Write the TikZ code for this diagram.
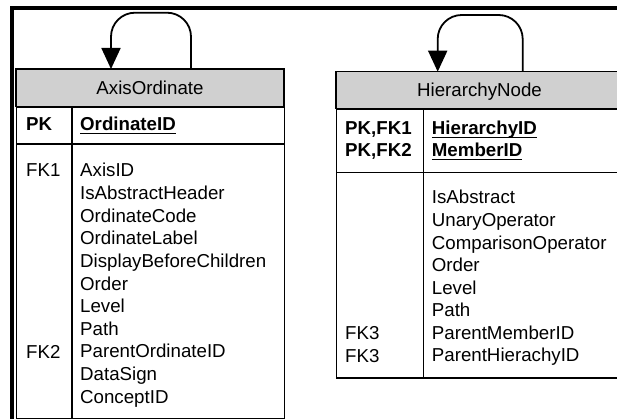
\documentclass[tikz,border=0pt]{standalone}
\usepackage{fontspec}
\setmainfont{Liberation Sans}
\usetikzlibrary{arrows.meta}
\definecolor{hdrgray}{RGB}{208,208,208}
% bold key field with a fixed underline just below the baseline
\newcommand\keyfield[1]{\setbox0=\hbox{\bfseries #1}\rlap{\rule[-3pt]{\wd0}{1.3pt}}\box0}
\tikzset{
  txt/.style={inner sep=0pt, anchor=base west, font=\fontsize{18.7}{22.6}\selectfont},
  hdr/.style={draw, fill=hdrgray, line width=1.3pt, inner sep=0pt, text height=13.4pt, text depth=0pt,
              font=\fontsize{18.7}{22.6}\selectfont},
  cell/.style={draw, line width=1.3pt, inner sep=0pt, anchor=north west},
  sep/.style={line width=1.3pt},
  selfref/.style={line width=1.8pt, rounded corners=24pt, -{Triangle[length=21pt,width=19pt]}},
  frame/.style={line width=4.4pt}
}
\begin{document}
\begin{tikzpicture}[x=1pt,y=-1pt]
\useasboundingbox (0,0) rectangle (617,419);

% outer frame edge
\draw[frame] (12.2,430) -- (12.2,8) -- (630,8);

% ---------- AxisOrdinate ----------
\node[hdr, minimum width=268pt, minimum height=37.7pt] (aoh) at (150,88) {AxisOrdinate};
\node[cell, minimum width=268pt, minimum height=36.6pt] (aopk) at (16,106.7) {};
\node[cell, minimum width=268pt, minimum height=274.4pt] (aobody) at (16,143.3) {};
\draw[sep] (72,106.7) -- (72,417.7);

\node[txt] (aopkl) at (26,131) {\bfseries PK};
\node[txt] (aopkf) at (80,131) {\keyfield{OrdinateID}};

\node[txt] (aofk1) at (26,177) {FK1};
\node[txt] (aofk2) at (26,358.0) {FK2};
\foreach \f [count=\i from 0] in {AxisID,IsAbstractHeader,OrdinateCode,OrdinateLabel,
    DisplayBeforeChildren,Order,Level,Path,ParentOrdinateID,DataSign,ConceptID}
  \node[txt] (aof\i) at (80,177+22.6*\i) {\f};

\coordinate (aoout) at (191,69);
\coordinate (aoin) at (111,69);
\draw[selfref] (aoout) -- (191,12.7) -- (111,12.7) -- (aoin);

% ---------- HierarchyNode ----------
\node[hdr, minimum width=287pt, minimum height=36.6pt] (hnh) at (479.5,90) {HierarchyNode};
\node[cell, minimum width=287pt, minimum height=63.4pt] (hnpk) at (336,108.3) {};
\node[cell, minimum width=287pt, minimum height=205.6pt] (hnbody) at (336,171.7) {};
\draw[sep] (423.3,108.3) -- (423.3,377.3);

\node[txt] (hnpk1) at (345,135) {\bfseries PK,FK1};
\node[txt] (hnpk2) at (345,157) {\bfseries PK,FK2};
\node[txt] (hnpf1) at (431.7,135) {\keyfield{HierarchyID}};
\node[txt] (hnpf2) at (431.7,157) {\keyfield{MemberID}};

\node[txt] (hnfk3a) at (345,339.4) {FK3};
\node[txt] (hnfk3b) at (345,362) {FK3};
\foreach \f [count=\i from 0] in {IsAbstract,UnaryOperator,ComparisonOperator,Order,
    Level,Path,ParentMemberID,ParentHierachyID}
  \node[txt] (hnf\i) at (431.7,204+22.57*\i) {\f};

\coordinate (hnout) at (522.7,71.7);
\coordinate (hnin) at (437.7,71.7);
\draw[selfref] (hnout) -- (522.7,15) -- (437.7,15) -- (hnin);
\end{tikzpicture}
\end{document}
